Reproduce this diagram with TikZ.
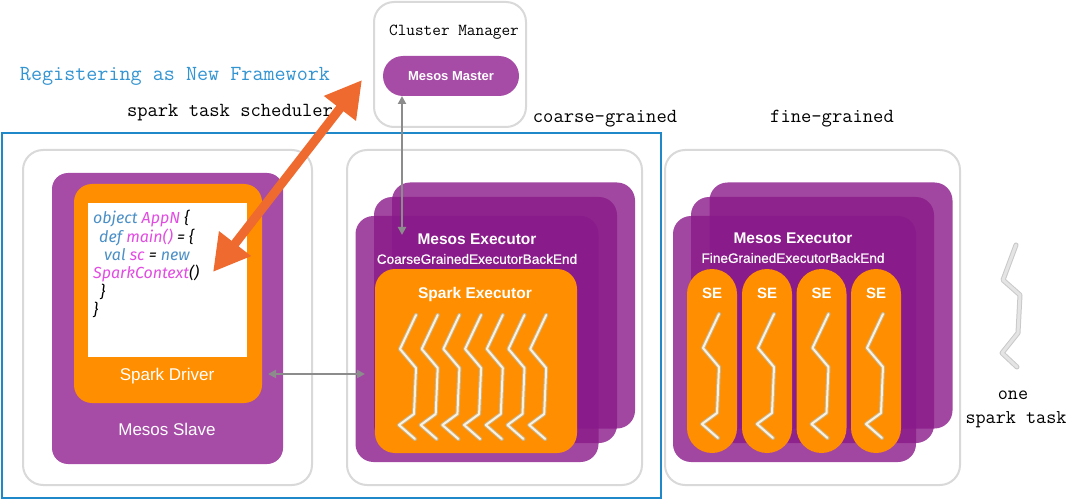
\documentclass[tikz,border=0pt]{standalone}
\usepackage{fontspec}
\setmainfont{Liberation Sans}
\newfontfamily\codefont{Fira Sans}
\newfontfamily\medfont{Liberation Sans}[FakeBold=0.6]
\usetikzlibrary{arrows.meta}
\definecolor{boxgray}{HTML}{D9D9D9}
\definecolor{mpurple}{HTML}{A64CA6}
\definecolor{epurple}{HTML}{8A1A8A}
\definecolor{sorange}{HTML}{FF8F00}
\definecolor{arrowor}{HTML}{EE6A2E}
\definecolor{arrowgray}{HTML}{8C8C8C}
\definecolor{regblue}{HTML}{3394D2}
\definecolor{frameblue}{HTML}{1E88C8}
\definecolor{kwblue}{HTML}{4A8FC6}
\definecolor{kwpink}{HTML}{E24CE2}
\definecolor{threadedge}{HTML}{C8B48E}
\definecolor{threadfill}{HTML}{FAF1DE}
\definecolor{taskedge}{HTML}{C9C9C9}
\definecolor{taskfill}{HTML}{E4E4E4}
\begin{document}
\begin{tikzpicture}[x=1pt,y=-1pt,
  graybox/.style={draw=boxgray, line width=2pt, rounded corners=20pt, fill=white, inner sep=0pt},
  mmpill/.style={fill=mpurple, rounded corners=20pt, inner sep=0pt, text=white, font=\bfseries\fontsize{13}{15}\selectfont},
  slavebox/.style={fill=mpurple, rounded corners=16pt, inner sep=0pt},
  drvbox/.style={fill=sorange, rounded corners=18pt, inner sep=0pt},
  codebox/.style={fill=white, inner sep=0pt},
  execlayer/.style={fill=epurple, fill opacity=0.8, rounded corners=18pt, inner sep=0pt, minimum width=243pt, minimum height=246pt},
  sparkexec/.style={fill=sorange, rounded corners=20pt, inner sep=0pt},
  sepill/.style={fill=sorange, rounded corners=25pt, inner sep=0pt, minimum width=50pt, minimum height=184pt},
  monolbl/.style={font=\ttfamily\fontsize{20}{22}\selectfont, inner sep=0pt},
  whitelbl/.style={text=white, inner sep=0pt, font=\fontsize{17}{19}\selectfont},
  boldlbl/.style={text=white, inner sep=0pt, font=\bfseries\fontsize{15.5}{18}\selectfont},
  backlbl/.style={text=white, inner sep=0pt, font=\medfont\fontsize{13.6}{16}\selectfont},
  codeline/.style={anchor=base west, inner sep=0pt, font=\codefont\itshape\fontsize{16}{18}\selectfont},
  orarrow/.style={draw=arrowor, line width=9pt, {Triangle[length=36pt,width=38pt]}-{Triangle[length=36pt,width=38pt]}},
  grayarrow/.style={draw=arrowgray, line width=2pt, {Triangle[length=8pt,width=8pt]}-{Triangle[length=8pt,width=8pt]}},
  thread/.pic={
    \draw[line width=4pt, draw=threadedge, line join=round, line cap=round]
      (0,0)--(-16,34)--(0,53)--(-2,99)--(-17,110)--(-1,124);
    \draw[line width=2pt, draw=threadfill, line join=round, line cap=round]
      (0,0)--(-16,34)--(0,53)--(-2,99)--(-17,110)--(-1,124);
  },
  task/.pic={
    \draw[line width=5pt, draw=taskedge, line join=round, line cap=round]
      (0,0)--(-13,35)--(4,50)--(2,88)--(-14,108)--(1,122);
    \draw[line width=3pt, draw=taskfill, line join=round, line cap=round]
      (0,0)--(-13,35)--(4,50)--(2,88)--(-14,108)--(1,122);
  }
]
\useasboundingbox (0,0) rectangle (1080,500);

% cluster manager
\node[graybox, minimum width=152pt, minimum height=125pt] (cm) at (450,64.5) {};
\node[monolbl, font=\ttfamily\fontsize{16.8}{19}\selectfont] (cmlbl) at (454,32) {Cluster Manager};
\node[mmpill, minimum width=136pt, minimum height=40pt] (mm) at (451,76) {Mesos Master};

% texts
\node[monolbl, text=regblue, font=\ttfamily\fontsize{21.5}{24}\selectfont] (reg) at (175,76) {Registering as New Framework};
\node[monolbl] (sched) at (230,113) {spark task scheduler};
\node[monolbl] (coarse) at (605,119) {coarse-grained};
\node[monolbl] (fine) at (832,119) {fine-grained};

% blue frame
\node[draw=frameblue, line width=2pt, minimum width=659pt, minimum height=365pt, inner sep=0pt] (frame) at (331.5,315.5) {};

% gray boxes
\node[graybox, minimum width=289pt, minimum height=335pt] (g1) at (167.5,317.5) {};
\node[graybox, minimum width=295pt, minimum height=335pt] (g2) at (494.5,317.5) {};
\node[graybox, minimum width=295pt, minimum height=335pt] (g3) at (812.5,317.5) {};

% mesos slave and driver
\node[slavebox, minimum width=231pt, minimum height=291pt] (slave) at (167.5,318.5) {};
\node[whitelbl] (slavelbl) at (167,429) {Mesos Slave};
\node[drvbox, minimum width=188pt, minimum height=219pt] (drv) at (168,293.5) {};
\node[whitelbl] (drvlbl) at (167,376) {Spark Driver};
\node[codebox, minimum width=159pt, minimum height=154pt] (code) at (167.5,280) {};
\node[codeline] (c1) at (93,224) {\textcolor{kwblue}{object} \textcolor{kwpink}{AppN} \{};
\node[codeline] (c2) at (99,243) {\textcolor{kwblue}{def} \textcolor{kwpink}{main()} = \{};
\node[codeline] (c3) at (104,260) {\textcolor{kwblue}{val} \textcolor{kwpink}{sc} = \textcolor{kwblue}{new}};
\node[codeline] (c4) at (93,278) {\textcolor{kwpink}{SparkContext}()};
\node[codeline] (c5) at (100,297) {\}};
\node[codeline] (c6) at (93,315) {\}};

% coarse-grained executors
\node[execlayer] (ce3) at (513.5,305.5) {};
\node[execlayer] (ce2) at (495.5,320) {};
\node[execlayer] (ce1) at (477,339) {};
\node[boldlbl] (celbl) at (477,239) {Mesos Executor};
\node[backlbl] (cebe) at (477,259) {CoarseGrainedExecutorBackEnd};
\node[sparkexec, minimum width=202pt, minimum height=184pt] (sexec) at (476,361) {};
\node[boldlbl, font=\bfseries\fontsize{15.5}{18}\selectfont] (sexeclbl) at (475,294) {Spark Executor};
\foreach \i in {0,...,6} {
  \pic at ({416+21.7*\i},315) {thread};
}

% fine-grained executors
\node[execlayer] (fe3) at (831,305.5) {};
\node[execlayer] (fe2) at (812.5,320) {};
\node[execlayer] (fe1) at (794.5,339) {};
\node[boldlbl] (felbl) at (793,238) {Mesos Executor};
\node[backlbl] (febe) at (793,258) {FineGrainedExecutorBackEnd};
\foreach \cx/\nm in {712/se1,767/se2,821.5/se3,876/se4} {
  \node[sepill] (\nm) at (\cx,361) {};
  \node[boldlbl, font=\bfseries\fontsize{15}{18}\selectfont] (\nm lbl) at (\cx,293) {SE};
  \pic at (\cx+7,314) {thread};
}

% one spark task
\pic at (1016,245) {task};
\node[monolbl, font=\ttfamily\fontsize{19.6}{22}\selectfont] (one) at (1013,395) {one};
\node[monolbl, font=\ttfamily\fontsize{19.6}{22}\selectfont] (stask) at (1016,420) {spark task};

% arrows
\coordinate (regtip) at (362,80);
\coordinate (codetip) at (213,272);
\draw[orarrow] (codetip) -- (regtip);
\coordinate (mmbot) at (402,96);
\coordinate (ceup) at (402,235);
\draw[grayarrow] (mmbot) -- (ceup);
\coordinate (drvr) at (268,374);
\coordinate (cel) at (365,374);
\draw[grayarrow] (drvr) -- (cel);
\end{tikzpicture}
\end{document}
